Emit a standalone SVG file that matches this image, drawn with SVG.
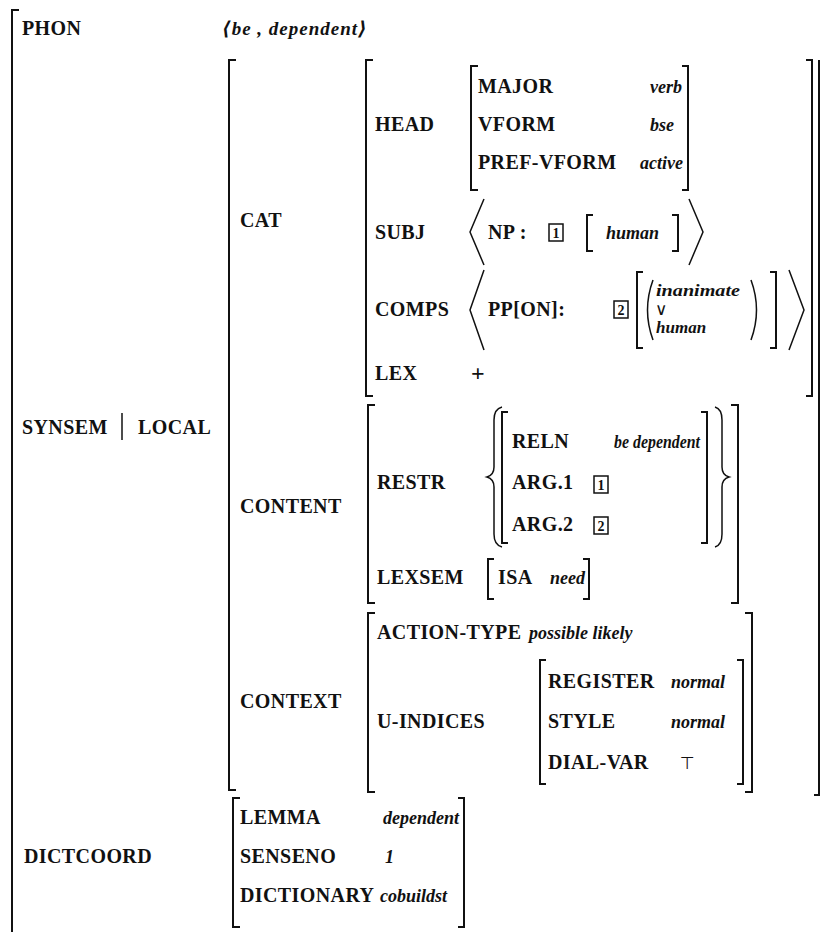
<svg xmlns="http://www.w3.org/2000/svg" width="821" height="932" viewBox="0 0 821 932">
<style>
.k{font-family:"Liberation Serif","DejaVu Serif",serif;font-weight:bold;font-size:20px;letter-spacing:0.4px;fill:#111}
.v{font-family:"Liberation Serif","DejaVu Serif",serif;font-weight:bold;font-style:italic;font-size:18px;fill:#111}
.s{font-family:"Liberation Serif","DejaVu Serif",serif;font-weight:bold;font-style:italic;font-size:17px;fill:#111}
.n{font-family:"Liberation Serif","DejaVu Serif",serif;font-weight:bold;font-size:14px;text-anchor:middle;fill:#111}
.y{font-family:"DejaVu Sans",sans-serif;font-size:17px;fill:#111}
.b{fill:none;stroke:#111;stroke-width:2}
.t{fill:none;stroke:#111;stroke-width:1.5}
</style>
<rect width="821" height="932" fill="#fff"/>
<g id="brackets">
<path class="b" d="M19 10 H12 V932"/>
<path class="b" d="M236 60 H229 V790 H236"/>
<path class="b" d="M819 60 V795 H814"/>
<path class="b" d="M373 60 H366 V396 H373"/>
<path class="b" d="M806 60 H812 V396 H806"/>
<path class="b" d="M375 405 H368 V603 H375"/>
<path class="b" d="M731 405 H738 V603 H731"/>
<path class="b" d="M375 613 H368 V792 H375"/>
<path class="b" d="M745 613 H752 V792 H745"/>
<path class="b" d="M240 798 H233 V927 H240"/>
<path class="b" d="M458 798 H464 V927 H458"/>
</g>
<g id="phon">
<text class="k" x="22" y="35">PHON</text>
<text class="v" x="222" y="35" style="font-size:19px;letter-spacing:1px">⟨be , dependent⟩</text>
</g>
<g id="synsem-local">
<text class="k" x="22" y="434">SYNSEM</text>
<line class="t" x1="122" y1="413" x2="122" y2="440"/>
<text class="k" x="138" y="434">LOCAL</text>
</g>
<g id="cat">
<text class="k" x="240" y="227">CAT</text>
<g id="head">
<text class="k" x="375" y="131">HEAD</text>
<path class="b" d="M478 66 H471 V190 H478"/>
<path class="b" d="M682 66 H688 V190 H682"/>
<text class="k" x="478" y="93">MAJOR</text>
<text class="v" x="650" y="93">verb</text>
<text class="k" x="478" y="131">VFORM</text>
<text class="v" x="650" y="131">bse</text>
<text class="k" x="478" y="169">PREF-VFORM</text>
<text class="v" x="640" y="169">active</text>
</g>
<g id="subj">
<text class="k" x="375" y="239">SUBJ</text>
<path class="t" d="M484 199 L470 232 L484 265"/>
<text class="k" x="488" y="239">NP :</text>
<rect class="t" x="549" y="224" width="14" height="17"/>
<text class="n" x="556" y="238">1</text>
<path class="b" d="M593 215 H587 V251 H593"/>
<text class="v" x="606" y="239">human</text>
<path class="b" d="M672 215 H678 V251 H672"/>
<path class="t" d="M689 199 L703 232 L689 265"/>
</g>
<g id="comps">
<text class="k" x="375" y="316">COMPS</text>
<path class="t" d="M484 270 L470 310 L484 350"/>
<text class="k" x="488" y="316">PP[ON]:</text>
<rect class="t" x="614" y="301" width="14" height="17"/>
<text class="n" x="621" y="315">2</text>
<path class="b" d="M643 272 H637 V348 H643"/>
<path class="t" d="M653 280 Q642 310 653 340"/>
<text class="s" x="656" y="296" textLength="84" lengthAdjust="spacingAndGlyphs">inanimate</text>
<text class="y" x="655" y="315">∨</text>
<text class="s" x="656" y="333">human</text>
<path class="t" d="M751 280 Q762 310 751 340"/>
<path class="b" d="M770 272 H776 V348 H770"/>
<path class="t" d="M789 270 L804 310 L789 350"/>
</g>
<g id="lex">
<text class="k" x="375" y="380">LEX</text>
<text class="k" x="471" y="381" style="font-size:24px">+</text>
</g>
</g>
<g id="content">
<text class="k" x="240" y="513">CONTENT</text>
<text class="k" x="377" y="489">RESTR</text>
<path class="t" d="M502 407 Q494 409 494 420 L494 467 Q494 475 487 477 Q494 479 494 487 L494 534 Q494 545 502 547"/>
<path class="b" d="M508 412 H502 V543 H508"/>
<text class="k" x="512" y="448">RELN</text>
<text class="v" x="614" y="448" textLength="86" lengthAdjust="spacingAndGlyphs">be dependent</text>
<text class="k" x="512" y="489">ARG.1</text>
<rect class="t" x="594" y="476" width="14" height="17"/>
<text class="n" x="601" y="490">1</text>
<text class="k" x="512" y="531">ARG.2</text>
<rect class="t" x="594" y="517" width="14" height="17"/>
<text class="n" x="601" y="531">2</text>
<path class="b" d="M701 412 H707 V543 H701"/>
<path class="t" d="M715 407 Q722 409 722 420 L722 467 Q722 475 729 477 Q722 479 722 487 L722 534 Q722 545 715 547"/>
<text class="k" x="377" y="584">LEXSEM</text>
<path class="b" d="M494 559 H488 V599 H494"/>
<text class="k" x="498" y="584">ISA</text>
<text class="v" x="550" y="584">need</text>
<path class="b" d="M583 559 H589 V599 H583"/>
</g>
<g id="context">
<text class="k" x="240" y="708">CONTEXT</text>
<text class="k" x="377" y="639">ACTION-TYPE</text>
<text class="v" x="529" y="639">possible likely</text>
<text class="k" x="377" y="728">U-INDICES</text>
<path class="b" d="M546 660 H540 V784 H546"/>
<text class="k" x="548" y="688">REGISTER</text>
<text class="v" x="671" y="688">normal</text>
<text class="k" x="548" y="728">STYLE</text>
<text class="v" x="671" y="728">normal</text>
<text class="k" x="548" y="769">DIAL-VAR</text>
<text class="y" x="680" y="769">⊤</text>
<path class="b" d="M737 660 H743 V784 H737"/>
</g>
<g id="dictcoord">
<text class="k" x="24" y="863">DICTCOORD</text>
<text class="k" x="240" y="824">LEMMA</text>
<text class="v" x="383" y="824">dependent</text>
<text class="k" x="240" y="863">SENSENO</text>
<text class="v" x="385" y="863">1</text>
<text class="k" x="240" y="902">DICTIONARY</text>
<text class="v" x="380" y="902">cobuildst</text>
</g>
</svg>
